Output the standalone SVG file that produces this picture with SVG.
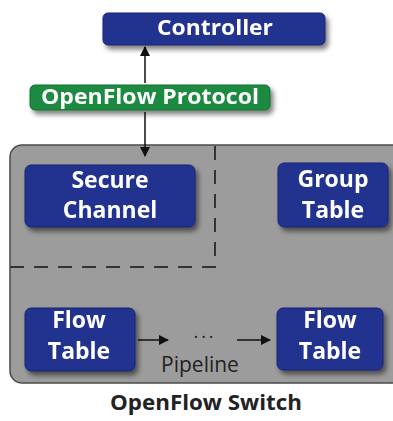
<svg xmlns="http://www.w3.org/2000/svg" width="393" height="421" viewBox="0 0 393 421">
  <defs>
    <filter id="sh" x="-20%" y="-20%" width="150%" height="160%">
      <feGaussianBlur in="SourceAlpha" stdDeviation="2.5"/>
      <feOffset dx="3" dy="4" result="b"/>
      <feComponentTransfer><feFuncA type="linear" slope="0.5"/></feComponentTransfer>
      <feMerge><feMergeNode/><feMergeNode in="SourceGraphic"/></feMerge>
    </filter>
    <marker id="ah" viewBox="0 0 10 10" refX="9" refY="5" markerWidth="7" markerHeight="7" orient="auto-start-reverse">
      <path d="M0,0 L10,5 L0,10 z" fill="#111"/>
    </marker>
    <style>
      .box { fill: #24328f; stroke: #1a2570; stroke-width: 1; }
      .green { fill: #1b8a40; stroke: #14702f; stroke-width: 1; }
      .lbl { font-family: "Open Sans", "DejaVu Sans", sans-serif; font-weight: 700; fill: #ffffff; text-anchor: middle; }
      .blk { font-family: "Open Sans", "DejaVu Sans", sans-serif; fill: #222; text-anchor: middle; }
      .dash { stroke: #333; stroke-width: 2; stroke-dasharray: 14 10; fill: none; }
      .conn { stroke: #111; stroke-width: 1.5; fill: none; }
    </style>
  </defs>
  <rect width="393" height="421" fill="#ffffff"/>

  <g id="switch">
    <rect x="10" y="145" width="400" height="238" rx="12" fill="#9c9c9c" stroke="#4a4a4a" stroke-width="1.5"/>
    <path class="dash" d="M215,146 V267 H10"/>
    <text class="blk" x="206" y="410" font-size="22" font-weight="700" textLength="192" lengthAdjust="spacingAndGlyphs">OpenFlow Switch</text>
  </g>

  <g id="connectors">
    <line class="conn" x1="145" y1="83" x2="145" y2="47" marker-end="url(#ah)"/>
    <line class="conn" x1="145" y1="112" x2="145" y2="156" marker-end="url(#ah)"/>
    <line class="conn" x1="138" y1="340" x2="168" y2="340" marker-end="url(#ah)"/>
    <line class="conn" x1="237" y1="340" x2="270" y2="340" marker-end="url(#ah)"/>
    <text class="blk" x="205" y="343" font-size="18" letter-spacing="3" fill="#444">···</text>
    <text class="blk" x="200" y="372" font-size="21" fill="#333">Pipeline</text>
  </g>

  <g id="controller" filter="url(#sh)">
    <rect class="box" x="103" y="13" width="222" height="32" rx="5"/>
    <text class="lbl" x="215" y="35" font-size="22" textLength="116" lengthAdjust="spacingAndGlyphs">Controller</text>
  </g>

  <g id="protocol" filter="url(#sh)">
    <rect class="green" x="30" y="85" width="240" height="25" rx="5"/>
    <text class="lbl" x="150" y="104" font-size="21" textLength="218" lengthAdjust="spacingAndGlyphs">OpenFlow Protocol</text>
  </g>

  <g id="secure-channel" filter="url(#sh)">
    <rect class="box" x="25" y="165" width="170" height="62" rx="6"/>
    <text class="lbl" x="110" y="188" font-size="23">Secure</text>
    <text class="lbl" x="110" y="218" font-size="23">Channel</text>
  </g>

  <g id="group-table" filter="url(#sh)">
    <rect class="box" x="278" y="163" width="110" height="64" rx="6"/>
    <text class="lbl" x="333" y="187" font-size="23">Group</text>
    <text class="lbl" x="333" y="218" font-size="23">Table</text>
  </g>

  <g id="flow-table-1" filter="url(#sh)">
    <rect class="box" x="25" y="308" width="110" height="63" rx="6"/>
    <text class="lbl" x="79" y="328" font-size="23">Flow</text>
    <text class="lbl" x="79" y="359" font-size="23">Table</text>
  </g>

  <g id="flow-table-2" filter="url(#sh)">
    <rect class="box" x="277" y="308" width="106" height="62" rx="6"/>
    <text class="lbl" x="330" y="328" font-size="23">Flow</text>
    <text class="lbl" x="330" y="359" font-size="23">Table</text>
  </g>
</svg>
